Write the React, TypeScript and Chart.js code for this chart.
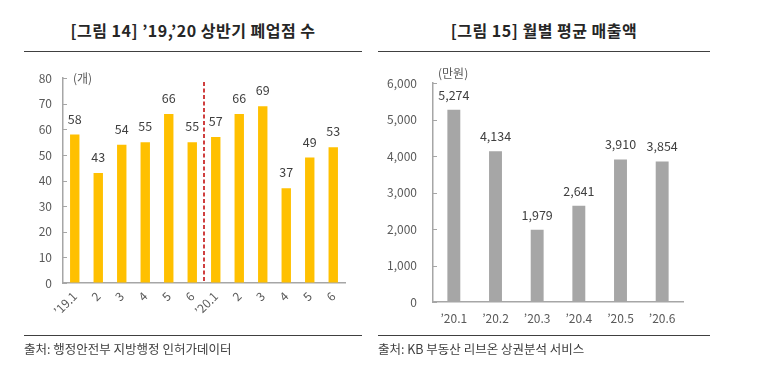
import React, { useEffect, useRef } from "react";
import { Chart, registerables } from "chart.js";

Chart.register(...registerables);

const FONT = "'Noto Sans CJK KR', 'Noto Sans', sans-serif";

// ---- Data: [그림 14] '19,'20 상반기 폐업점 수
const closureCategories = ["’19.1", "2", "3", "4", "5", "6", "’20.1", "2", "3", "4", "5", "6"];
const closureValues = [58, 43, 54, 55, 66, 55, 57, 66, 69, 37, 49, 53];
const closureYMax = 80;
const closureYStep = 10;
const closureUnit = "(개)";

// ---- Data: [그림 15] 월별 평균 매출액
const salesCategories = ["’20.1", "’20.2", "’20.3", "’20.4", "’20.5", "’20.6"];
const salesValues = [5274, 4134, 1979, 2641, 3910, 3854];
const salesYMax = 6000;
const salesYStep = 1000;
const salesUnit = "(만원)";

const AXIS_COLOR = "#a6a6a6";
const TICK_COLOR = "#595959";
const LABEL_COLOR = "#404040";

function fmt(v: number) {
  return v.toLocaleString("en-US");
}

function valueLabels(offset: number) {
  return {
    id: "valueLabels",
    afterDatasetsDraw(chart: any) {
      const ctx = chart.ctx;
      const meta = chart.getDatasetMeta(0);
      const data = chart.data.datasets[0].data as number[];
      ctx.save();
      ctx.font = `12.5px ${FONT}`;
      ctx.fillStyle = LABEL_COLOR;
      ctx.textAlign = "center";
      ctx.textBaseline = "alphabetic";
      meta.data.forEach((bar: any, i: number) => {
        ctx.fillText(fmt(data[i]), bar.x, bar.y - offset);
      });
      ctx.restore();
    },
  };
}

function innerTicks() {
  return {
    id: "innerTicks",
    afterDraw(chart: any) {
      const ctx = chart.ctx;
      const y = chart.scales.y;
      const left = chart.chartArea.left;
      ctx.save();
      ctx.strokeStyle = AXIS_COLOR;
      ctx.lineWidth = 1;
      y.ticks.forEach((t: any) => {
        const py = Math.round(y.getPixelForValue(t.value)) + 0.5;
        ctx.beginPath();
        ctx.moveTo(left, py);
        ctx.lineTo(left + 4, py);
        ctx.stroke();
      });
      ctx.restore();
    },
  };
}

function unitLabel(text: string, dx: number, dy: number) {
  return {
    id: "unitLabel",
    afterDraw(chart: any) {
      const ctx = chart.ctx;
      ctx.save();
      ctx.font = `12px ${FONT}`;
      ctx.fillStyle = TICK_COLOR;
      ctx.textAlign = "left";
      ctx.textBaseline = "middle";
      ctx.fillText(text, chart.chartArea.left + dx, chart.chartArea.top + dy);
      ctx.restore();
    },
  };
}

const dividerLine = {
  id: "dividerLine",
  afterDatasetsDraw(chart: any) {
    const ctx = chart.ctx;
    const x = chart.scales.x;
    const y = chart.scales.y;
    const px = (x.getPixelForValue(5) + x.getPixelForValue(6)) / 2;
    ctx.save();
    ctx.strokeStyle = "#c00000";
    ctx.lineWidth = 1.5;
    ctx.setLineDash([4, 2.5]);
    ctx.beginPath();
    ctx.moveTo(px, y.getPixelForValue(78.5));
    ctx.lineTo(px, y.getPixelForValue(0));
    ctx.stroke();
    ctx.restore();
  },
};

function ClosureChart() {
  const ref = useRef<HTMLCanvasElement | null>(null);
  useEffect(() => {
    if (!ref.current) return;
    const chart = new Chart(ref.current, {
      type: "bar",
      data: {
        labels: closureCategories,
        datasets: [
          {
            data: closureValues,
            backgroundColor: "#ffc000",
            barPercentage: 0.4,
            categoryPercentage: 1,
          },
        ],
      },
      options: {
        animation: false,
        responsive: false,
        layout: { padding: { top: 10, right: 25, left: 0, bottom: 0 } },
        plugins: { legend: { display: false }, tooltip: { enabled: false } },
        scales: {
          x: {
            grid: { display: false, drawTicks: false },
            border: { display: true, color: AXIS_COLOR, width: 1.5 },
            ticks: {
              autoSkip: false,
              minRotation: 45,
              maxRotation: 45,
              padding: 6,
              color: TICK_COLOR,
              font: { size: 12, family: FONT },
            },
            afterFit: (s: any) => {
              s.height = 57;
            },
          },
          y: {
            min: 0,
            max: closureYMax,
            grid: { display: true, drawOnChartArea: false, drawTicks: false },
            border: { display: true, color: AXIS_COLOR, width: 1.5 },
            ticks: {
              stepSize: closureYStep,
              padding: 11,
              color: TICK_COLOR,
              font: { size: 12, family: FONT },
            },
            afterFit: (s: any) => {
              s.width = 63;
            },
          },
        },
      },
      plugins: [valueLabels(11), innerTicks(), unitLabel(closureUnit, 10, 0), dividerLine],
    } as any);
    return () => chart.destroy();
  }, []);
  return <canvas ref={ref} width={370} height={280} style={{ width: 370, height: 280 }} />;
}

function SalesChart() {
  const ref = useRef<HTMLCanvasElement | null>(null);
  useEffect(() => {
    if (!ref.current) return;
    const chart = new Chart(ref.current, {
      type: "bar",
      data: {
        labels: salesCategories,
        datasets: [
          {
            data: salesValues,
            backgroundColor: "#a6a6a6",
            barPercentage: 0.31,
            categoryPercentage: 1,
          },
        ],
      },
      options: {
        animation: false,
        responsive: false,
        layout: { padding: { top: 20, right: 27, left: 0, bottom: 0 } },
        plugins: { legend: { display: false }, tooltip: { enabled: false } },
        scales: {
          x: {
            grid: { display: false, drawTicks: false },
            border: { display: true, color: AXIS_COLOR, width: 1.5 },
            ticks: {
              autoSkip: false,
              maxRotation: 0,
              minRotation: 0,
              padding: 9,
              color: TICK_COLOR,
              font: { size: 12, family: FONT },
            },
            afterFit: (s: any) => {
              s.height = 38;
            },
          },
          y: {
            min: 0,
            max: salesYMax,
            grid: { display: true, drawOnChartArea: false, drawTicks: false },
            border: { display: true, color: AXIS_COLOR, width: 1.5 },
            ticks: {
              stepSize: salesYStep,
              padding: 16,
              color: TICK_COLOR,
              font: { size: 12, family: FONT },
              callback: (v: any) => fmt(Number(v)),
            },
            afterFit: (s: any) => {
              s.width = 58;
            },
          },
        },
      },
      plugins: [valueLabels(10), innerTicks(), unitLabel(salesUnit, 5, -10)],
    } as any);
    return () => chart.destroy();
  }, []);
  return <canvas ref={ref} width={335} height={280} style={{ width: 335, height: 280 }} />;
}

const abs = (s: React.CSSProperties): React.CSSProperties => ({ position: "absolute", ...s });

const titleStyle: React.CSSProperties = {
  top: 19,
  textAlign: "center",
  fontSize: 16,
  fontWeight: 700,
  lineHeight: "22px",
  letterSpacing: 0.5,
  whiteSpace: "nowrap",
};

const sourceStyle: React.CSSProperties = {
  top: 339,
  fontSize: 12.5,
  lineHeight: "20px",
  color: "#404040",
  whiteSpace: "nowrap",
};

export default function App() {
  return (
    <div
      style={abs({
        left: 0,
        top: 0,
        width: 773,
        height: 373,
        background: "#fff",
        fontFamily: FONT,
        color: "#262626",
        overflow: "hidden",
      })}
    >
      <div style={abs({ ...titleStyle, left: 24, width: 338 })}>[그림 14] ’19,’20 상반기 폐업점 수</div>
      <div style={abs({ left: 24, width: 338, top: 51, height: 1, background: "#404040" })} />
      <div style={abs({ left: 0, top: 60, width: 370, height: 280 })}>
        <ClosureChart />
      </div>
      <div style={abs({ left: 24, width: 338, top: 335, height: 1, background: "#404040" })} />
      <div style={abs({ ...sourceStyle, left: 24 })}>출처: 행정안전부 지방행정 인허가데이터</div>

      <div style={abs({ ...titleStyle, left: 378, width: 332 })}>[그림 15] 월별 평균 매출액</div>
      <div style={abs({ left: 378, width: 332, top: 51, height: 1, background: "#404040" })} />
      <div style={abs({ left: 375, top: 60, width: 335, height: 280 })}>
        <SalesChart />
      </div>
      <div style={abs({ left: 378, width: 332, top: 335, height: 1, background: "#404040" })} />
      <div style={abs({ ...sourceStyle, left: 378 })}>출처: KB 부동산 리브온 상권분석 서비스</div>
    </div>
  );
}
